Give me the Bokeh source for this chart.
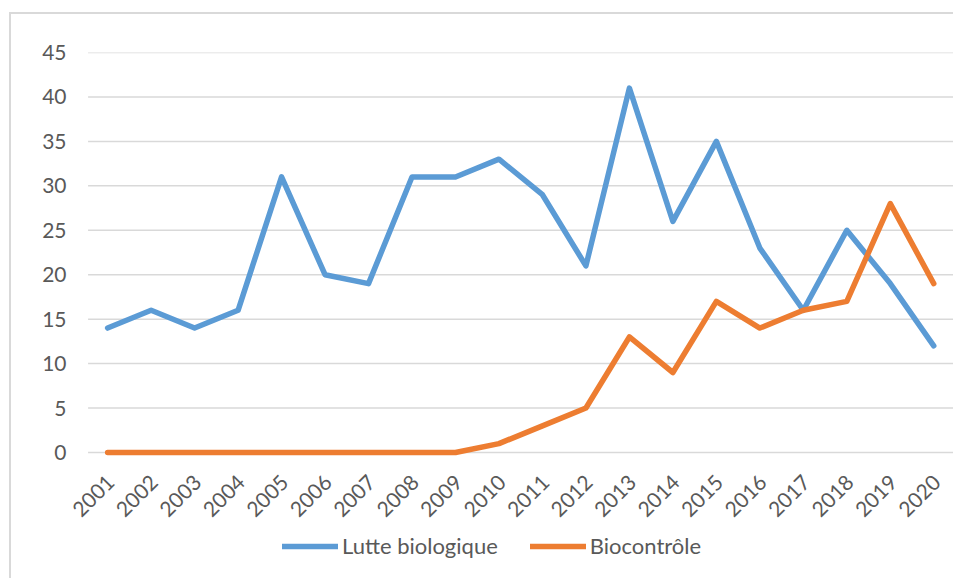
import math
from bokeh.plotting import figure
from bokeh.models import Range1d, FixedTicker, Legend, LegendItem, ColumnDataSource
from bokeh.core.properties import value
from bokeh.embed import file_html
from bokeh.resources import INLINE

years = list(range(2001, 2021))
year_labels = [str(y) for y in years]
lutte_biologique = [14, 16, 14, 16, 31, 20, 19, 31, 31, 33, 29, 21, 41, 26, 35, 23, 16, 25, 19, 12]
biocontrole = [0, 0, 0, 0, 0, 0, 0, 0, 0, 1, 3, 5, 13, 9, 17, 14, 16, 17, 28, 19]
y_ticks = [0, 5, 10, 15, 20, 25, 30, 35, 40, 45]
series_names = ["Lutte biologique", "Biocontrôle"]

FONT = "Lato"
TXT = "#595959"
GRID = "#d9d9d9"

# the frame reaches down to the figure foot (and a little left of the first
# year) so that the year labels and the legend drawn inside it are not clipped;
# the value axis shows 0..45 only
p = figure(x_range=Range1d(years[0] - 0.9, years[-1] + 0.5), y_range=Range1d(-14.4, 45),
           width=944, height=566,
           output_backend="svg", toolbar_location=None, x_axis_location=None,
           min_border_left=57, min_border_top=38, min_border_right=0, min_border_bottom=0)
p.title.visible = False
p.styles = {"border-left": "2px solid #d9d9d9", "border-top": "2px solid #d9d9d9",
            "margin-left": "9px", "margin-top": "12px"}

p.outline_line_color = None
p.xgrid.grid_line_color = None
p.ygrid.grid_line_color = None
p.yaxis.ticker = FixedTicker(ticks=y_ticks)
p.yaxis.axis_line_color = None
p.yaxis.major_tick_line_color = None
p.yaxis.minor_tick_line_color = None
p.yaxis.major_tick_out = 0
p.yaxis.major_tick_in = 0
p.yaxis.major_label_text_font = FONT
p.yaxis.major_label_text_color = TXT
p.yaxis.major_label_text_font_size = "21px"
p.yaxis.major_label_standoff = 2

# horizontal value gridlines spanning the category band only
n = len(y_ticks)
p.segment(x0=[years[0] - 0.45] * n, x1=[years[-1] + 0.5] * n, y0=y_ticks, y1=y_ticks,
          line_color=GRID, line_width=1.5)

# category labels of the x axis, drawn at the foot of each category
lab_src = ColumnDataSource(dict(x=years, y=[0] * len(years), t=year_labels))
p.text(x="x", y="y", text="t", source=lab_src, angle=math.pi / 4,
       text_align="right", text_baseline="middle", x_offset=3, y_offset=26,
       text_font=value(FONT), text_color=TXT, text_font_size="21px")

r1 = p.line(years, lutte_biologique, line_color="#5B9BD5", line_width=5.5,
            line_cap="round", line_join="round")
r2 = p.line(years, biocontrole, line_color="#ED7D31", line_width=5.5,
            line_cap="round", line_join="round")

legend = Legend(items=[LegendItem(label=series_names[0], renderers=[r1]),
                       LegendItem(label=series_names[1], renderers=[r2])],
                orientation="horizontal", location=(214, 21),
                label_text_font=FONT, label_text_color=TXT,
                label_text_font_size="22px", glyph_width=56, glyph_height=22,
                label_standoff=4, spacing=32, border_line_color=None,
                background_fill_alpha=0, margin=0, padding=0)
p.add_layout(legend)

open("out.html", "w").write(file_html(p, INLINE))
